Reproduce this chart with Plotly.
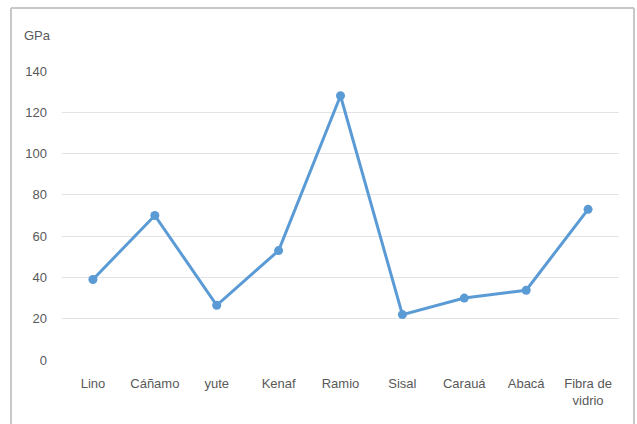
import plotly.graph_objects as go

categories = ["Lino", "Cáñamo", "yute", "Kenaf", "Ramio", "Sisal", "Carauá", "Abacá", "Fibra de<br>vidrio"]
values = [39, 70, 26.5, 53, 128, 22, 30, 33.8, 73]
y_ticks = [0, 20, 40, 60, 80, 100, 120, 140]

W, H = 637, 424
L, R, T, B = 62, 18, 71, 64
PW, PH = W - L - R, H - T - B


def px(x):
    return (x - L) / PW


def py(y):
    return 1 - (y - T) / PH


fig = go.Figure()
fig.add_trace(go.Scatter(
    x=categories, y=values, mode="lines+markers",
    line=dict(color="#5B9BD5", width=3),
    marker=dict(color="#5B9BD5", size=9),
    showlegend=False, hoverinfo="skip",
))

border = dict(color="#C8C8C8", width=2)
shapes = [
    dict(type="line", xref="paper", yref="paper", x0=px(11), x1=px(634), y0=py(8), y1=py(8), line=border),
    dict(type="line", xref="paper", yref="paper", x0=px(11), x1=px(11), y0=py(8), y1=py(424), line=border),
    dict(type="line", xref="paper", yref="paper", x0=px(634), x1=px(634), y0=py(8), y1=py(424), line=border),
]

font = dict(family="Liberation Sans", size=13, color="#595959")
fig.update_layout(
    width=W, height=H,
    margin=dict(l=L, r=R, t=T, b=B),
    paper_bgcolor="white", plot_bgcolor="white",
    font=font,
    xaxis=dict(showgrid=False, showline=False, zeroline=False, ticks="",
               tickfont=font, range=[-0.5, 8.5], ticklabelstandoff=14),
    yaxis=dict(range=[0, 140], tickvals=y_ticks, showgrid=True, gridcolor="#E3E3E3",
               gridwidth=1, zeroline=False, showline=False, ticks="",
               tickfont=font, ticklabelstandoff=14),
    annotations=[dict(text="GPa", x=px(37), y=py(36), xref="paper", yref="paper",
                      xanchor="center", yanchor="middle", showarrow=False, font=font)],
    shapes=shapes,
)
fig.write_html("out.html")
